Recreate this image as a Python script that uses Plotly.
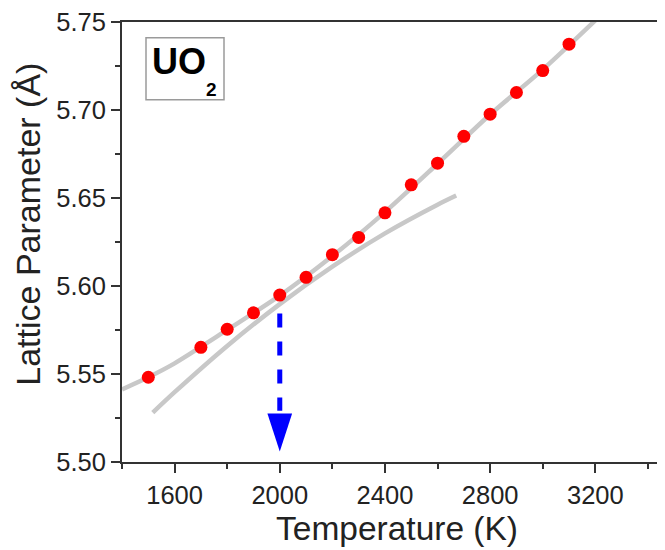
import plotly.graph_objects as go

# ---- data ----
temp_K = [1500, 1700, 1800, 1900, 2000, 2100, 2200, 2300, 2400, 2500,
          2600, 2700, 2800, 2900, 3000, 3100]
lattice_A = [5.5481, 5.5651, 5.5754, 5.5847, 5.5948, 5.6049, 5.6178, 5.6276,
             5.6416, 5.6575, 5.6698, 5.6851, 5.6977, 5.7100, 5.7225, 5.7375]

# upper grey fit curve (through all points)
fit_hi_T = [1400, 1500, 1600, 1800, 2000, 2200, 2400, 2600, 2800, 3000, 3200]
fit_hi_y = [5.5412, 5.5481, 5.5560, 5.5750, 5.5945, 5.6170, 5.6420, 5.6695,
            5.6975, 5.7230, 5.7510]

# lower grey curve (low-temperature trend extrapolated)
fit_lo_T = [1517, 1600, 1800, 2000, 2200, 2400, 2600, 2671]
fit_lo_y = [5.5280, 5.5396, 5.5659, 5.5897, 5.6110, 5.6299, 5.6462, 5.6514]

# blue dashed arrow marking the transition temperature
arrow_T = [2000, 2000]
arrow_y = [5.5843, 5.5291]
arrow_tip_y = [5.5058]

x_ticks = [1600, 2000, 2400, 2800, 3200]
x_minor = [1400, 1800, 2200, 2600, 3000, 3400]
y_ticks = [5.50, 5.55, 5.60, 5.65, 5.70, 5.75]
y_minor = [5.525, 5.575, 5.625, 5.675, 5.725]

FONT = "Arial, Liberation Sans, sans-serif"
AX = "#333333"
GREY = "rgb(200,200,200)"

# the page body has an 8px margin, so the figure is sized/placed to compensate
OFF = 8
W, H = 665 - OFF, 550 - OFF
L, T = 122 - OFF, 16 - OFF
PLOT_BOTTOM = 462 - OFF
B = H - PLOT_BOTTOM
pw, ph = W - L, PLOT_BOTTOM - T


def px(xw):  # window x -> paper
    return (xw - OFF - L) / pw


def py(yw):  # window y -> paper
    return (PLOT_BOTTOM - (yw - OFF)) / ph


fig = go.Figure()
fig.add_trace(go.Scatter(x=fit_hi_T, y=fit_hi_y, mode="lines",
                         line=dict(color=GREY, width=4.5, shape="spline", smoothing=0.8),
                         hoverinfo="skip", showlegend=False))
fig.add_trace(go.Scatter(x=fit_lo_T, y=fit_lo_y, mode="lines",
                         line=dict(color=GREY, width=4.5, shape="spline", smoothing=0.8),
                         hoverinfo="skip", showlegend=False))
fig.add_trace(go.Scatter(x=temp_K, y=lattice_A, mode="markers",
                         marker=dict(color="red", size=13, line=dict(width=0)),
                         showlegend=False))
fig.add_trace(go.Scatter(x=arrow_T, y=arrow_y, mode="lines",
                         line=dict(color="rgb(0,0,255)", width=5, dash="14px,14px"),
                         showlegend=False))
fig.add_trace(go.Scatter(x=arrow_T[:1], y=arrow_tip_y, mode="markers",
                         marker=dict(symbol="arrow", size=40, angle=180,
                                     color="rgb(0,0,255)", line=dict(width=0)),
                         showlegend=False, cliponaxis=False))

fig.update_layout(
    width=W, height=H,
    margin=dict(l=L, r=0, t=T, b=B, pad=0),
    plot_bgcolor="white", paper_bgcolor="white",
    font=dict(family=FONT, color="#222222"),
    xaxis=dict(range=[1400, 3465], tickvals=x_ticks, ticks="outside",
               ticklen=9, tickwidth=2, tickcolor=AX,
               showline=True, linecolor=AX, linewidth=2, mirror=True,
               showgrid=False, zeroline=False, ticklabeloverflow="allow",
               tickfont=dict(size=25.5, family=FONT, color="#222222"),
               minor=dict(tickvals=x_minor, ticks="outside", ticklen=5,
                          tickwidth=2, tickcolor=AX)),
    yaxis=dict(range=[5.4999, 5.7501], tickvals=y_ticks, tickformat=".2f",
               ticks="outside", ticklen=9, tickwidth=2, tickcolor=AX,
               showline=True, linecolor=AX, linewidth=2, mirror=False,
               showgrid=False, zeroline=False, ticklabeloverflow="allow",
               tickfont=dict(size=25.5, family=FONT, color="#222222"),
               minor=dict(tickvals=y_minor, ticks="outside", ticklen=5,
                          tickwidth=2, tickcolor=AX)),
    shapes=[dict(type="rect", xref="paper", yref="paper",
                 x0=px(146), x1=px(224), y0=py(94.7), y1=py(32),
                 line=dict(color="#9a9a9a", width=1.5), fillcolor="white", layer="below")],
    annotations=[
        dict(text="Temperature (K)", xref="paper", yref="paper",
             x=px(397), y=py(529), xanchor="center", yanchor="middle",
             showarrow=False, font=dict(size=33.5, family=FONT, color="#222222")),
        dict(text="Lattice Parameter (Å)", xref="paper", yref="paper",
             x=px(28), y=py(221.5), xanchor="center", yanchor="middle",
             textangle=-90, showarrow=False,
             font=dict(size=34, family=FONT, color="#222222")),
        dict(text="<b>UO</b>", xref="paper", yref="paper",
             x=px(179.3), y=py(56.4), xanchor="center", yanchor="middle",
             showarrow=False, font=dict(size=36, family=FONT, color="black")),
        dict(text="<b>2</b>", xref="paper", yref="paper",
             x=px(211.5), y=py(84.7), xanchor="center", yanchor="middle",
             showarrow=False, font=dict(size=19, family=FONT, color="black")),
    ],
)

fig.write_html("out.html")
